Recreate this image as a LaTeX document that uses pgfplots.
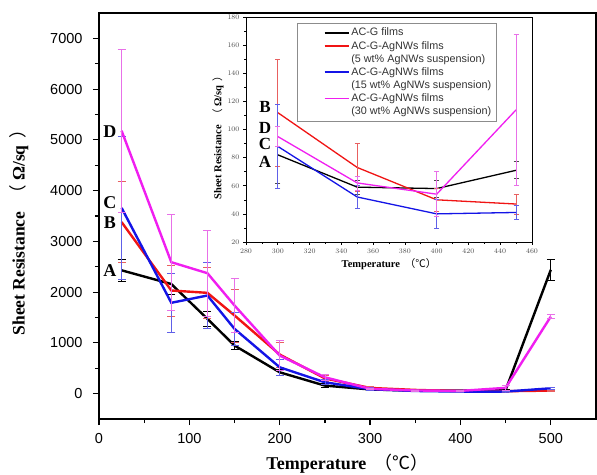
\documentclass[border=0pt]{standalone}
\usepackage{fontspec}
\setmainfont{Liberation Serif}
\setsansfont{Liberation Sans}
\newfontfamily\cjk{Noto Sans CJK SC}
\usepackage{pgfplots}
\pgfplotsset{compat=1.18}
\definecolor{cred}{HTML}{F01414}
\definecolor{cblue}{HTML}{1414E6}
\definecolor{cmag}{HTML}{F01EF0}
\definecolor{lred}{HTML}{E86060}
\definecolor{lblue}{HTML}{6060E8}
\definecolor{lmag}{HTML}{E870E8}

\pgfplotsset{
  ebar/.style n args={2}{error bars/.cd, y dir=both, y explicit,
    error bar style={line width=0.7pt,#1},
    error mark=-, error mark options={rotate=90,mark size=#2,line width=0.7pt,#1}},
}

\begin{document}
\begin{tikzpicture}
\path[use as bounding box] (-99pt,-55pt) rectangle (498pt,419pt);
\begin{axis}[
  name=main, scale only axis, width=497pt, height=406pt,
  xmin=0, xmax=550, ymin=-500, ymax=7500,
  xtick={0,100,...,500}, ytick={0,1000,...,7000},
  minor x tick num=1, minor y tick num=1,
  tick align=outside, xtick pos=bottom, ytick pos=left,
  major tick length=6pt, minor tick length=4pt,
  major tick style={black,line width=1.2pt},
  minor tick style={black,line width=1.2pt},
  axis line style={line width=1.4pt},
  ticklabel style={font=\sffamily\fontsize{14.5}{14.5}\selectfont},
  yticklabel style={xshift=-7pt},
  xticklabel style={yshift=-5pt},
  /pgf/number format/assume math mode=true,
  /pgf/number format/1000 sep={},
  xlabel={\textbf{Temperature}\hspace{0.45em}{\cjk （℃）}},
  xlabel style={font=\fontsize{18}{18}\selectfont, at={(axis description cs:0.5,-0.111)}, anchor=center},
  ylabel={\textbf{Sheet Resistance}\hspace{0.5em}{\cjk （}\hspace{0.25em}\textbf{Ω/sq}\hspace{0.4em}{\cjk ）}},
  ylabel style={font=\fontsize{17.5}{17.5}\selectfont, at={(axis description cs:-0.161,0.47)}, anchor=center},
]
\addplot[black, line width=2.4pt, ebar={black}{4pt}] coordinates {
  (25,2430) +- (0,210) (80,2160) +- (0,210) (120,1473) +- (0,150)
  (150,947) +- (0,80) (200,420) +- (0,60) (250,158) +- (0,40)
  (300,82) +- (0,20) (350,59) +- (0,10) (400,58) +- (0,12)
  (450,71) +- (0,8) (500,2440) +- (0,205)};
\addplot[cred, line width=2.4pt, ebar={lred}{4pt}] coordinates {
  (25,3380) +- (0,800) (80,2032) +- (0,500) (120,1986) +- (0,500)
  (150,1540) +- (0,520) (200,770) +- (0,250) (250,300) +- (0,60)
  (300,112) +- (0,38) (350,73) +- (0,17) (400,50) +- (0,12)
  (450,47) +- (0,8) (500,60) +- (0,10)};
\addplot[cblue, line width=2.4pt, ebar={lblue}{4pt}] coordinates {
  (25,3660) +- (0,1400) (80,1790) +- (0,580) (120,1933) +- (0,650)
  (150,1276) +- (0,330) (200,519) +- (0,150) (250,223) +- (0,50)
  (300,88) +- (0,30) (350,52) +- (0,9) (400,40) +- (0,10)
  (450,41) +- (0,4) (500,105) +- (0,20)};
\addplot[cmag, line width=2.4pt, ebar={lmag}{4pt}] coordinates {
  (25,5180) +- (0,1600) (80,2590) +- (0,950) (120,2373) +- (0,850)
  (150,1736) +- (0,530) (200,750) +- (0,300) (250,322) +- (0,60)
  (300,95) +- (0,7) (350,62) +- (0,10) (400,54) +- (0,16)
  (450,114) +- (0,54) (500,1519) +- (0,40)};
\begin{scope}[font=\bfseries\fontsize{18}{18}\selectfont]
\node at (axis cs:12,5168) {D};
\node at (axis cs:12,3773) {C};
\node at (axis cs:12,3379) {B};
\node at (axis cs:12,2426) {A};
\end{scope}
\end{axis}

\begin{axis}[
  at={(147pt,177pt)}, anchor=south west,
  scale only axis, width=286pt, height=225pt,
  xmin=280, xmax=460, ymin=20, ymax=180,
  xtick={280,300,...,460}, ytick={20,40,...,180},
  minor x tick num=1, minor y tick num=1,
  tick align=outside, xtick pos=bottom, ytick pos=left,
  major tick length=3pt, minor tick length=2pt,
  major tick style={black,line width=0.6pt},
  minor tick style={black,line width=0.6pt},
  axis line style={line width=0.8pt},
  axis background/.style={fill=white},
  ticklabel style={font=\sffamily\fontsize{7.5}{7.5}\selectfont, text=black!70},
  xlabel={\textbf{Temperature}\hspace{0.45em}{\cjk （℃）}},
  xlabel style={font=\fontsize{10.5}{10.5}\selectfont, at={(axis description cs:0.5,-0.098)}, anchor=center},
  ylabel={\textbf{Sheet Resistance}\hspace{0.5em}{\cjk （}\hspace{0.25em}\textbf{Ω/sq}\hspace{0.4em}{\cjk ）}},
  ylabel style={font=\fontsize{10.5}{10.5}\selectfont, at={(axis description cs:-0.098,0.475)}, anchor=center},
  legend style={at={(0.177,0.973)}, anchor=north west, draw=black!45,
    font=\sffamily\fontsize{10.8}{11}\selectfont, text=black!80,
    nodes={inner ysep=1.9pt, inner xsep=2pt}, inner sep=3pt},
  legend cell align=left,
  legend image code/.code={\path (0pt,0pt); \draw[#1] (24pt,0pt) -- (48pt,0pt);},
]
\addplot[forget plot, black, line width=1.3pt, ebar={black!70}{2.5pt}] coordinates {
  (300,82) +- (0,20) (350,59) +- (0,5) (400,58) +- (0,6) (450,71) +- (0,6)};
\addplot[forget plot, cred, line width=1.3pt, ebar={lred}{2.5pt}] coordinates {
  (300,112) +- (0,38) (350,73) +- (0,17) (400,50) +- (0,8) (450,47) +- (0,7)};
\addplot[forget plot, cblue, line width=1.3pt, ebar={lblue}{2.5pt}] coordinates {
  (300,88) +- (0,30) (350,52) +- (0,8) (400,40) +- (0,10) (450,41) +- (0,5)};
\addplot[forget plot, cmag, line width=1.3pt, ebar={lmag}{2.5pt}] coordinates {
  (300,95) +- (0,7) (350,62) +- (0,5) (400,54) +- (0,16) (450,114) +- (0,54)};
\addlegendimage{black, line width=1.5pt}
\addlegendentry{AC-G films}
\addlegendimage{cred, line width=1.5pt}
\addlegendentry{AC-G-AgNWs films}
\addlegendimage{empty legend}
\addlegendentry{(5 wt\% AgNWs suspension)}
\addlegendimage{cblue, line width=1.5pt}
\addlegendentry{AC-G-AgNWs films}
\addlegendimage{empty legend}
\addlegendentry{(15 wt\% AgNWs suspension)}
\addlegendimage{cmag, line width=1.5pt}
\addlegendentry{AC-G-AgNWs films}
\addlegendimage{empty legend}
\addlegendentry{(30 wt\% AgNWs suspension)}
\begin{scope}[font=\bfseries\fontsize{17}{17}\selectfont]
\node at (axis cs:292,116) {B};
\node at (axis cs:292,101) {D};
\node at (axis cs:292,90) {C};
\node at (axis cs:292,77) {A};
\end{scope}
\end{axis}
\end{tikzpicture}
\end{document}
